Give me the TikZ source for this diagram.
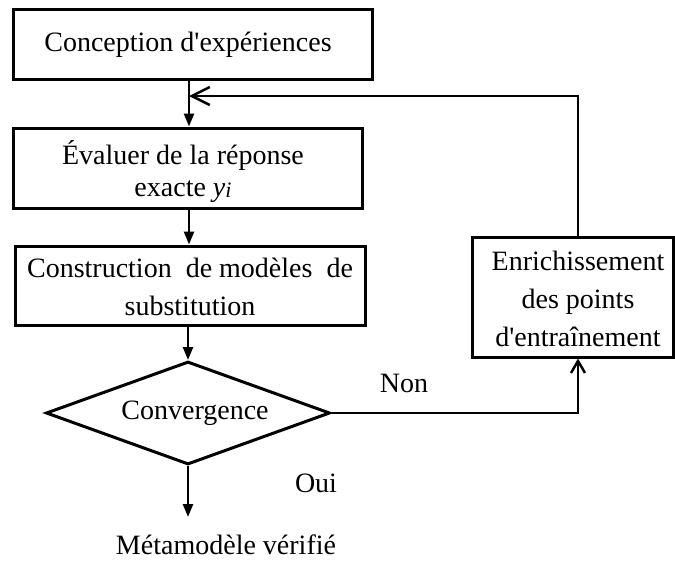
\documentclass[tikz,border=0pt]{standalone}
\usepackage{fontspec}
\setmainfont{Liberation Serif}
\usetikzlibrary{arrows.meta,shapes.geometric}
\begin{document}
\begin{tikzpicture}[x=1pt,y=1pt,
  box/.style={draw, line width=3pt, inner sep=0pt},
  txt/.style={font=\fontsize{28}{38}\selectfont, align=center, inner sep=0pt},
  conn/.style={line width=2.5pt},
  fillarrow/.style={conn, -{Triangle[length=13pt,width=10pt]}},
  openarrowA/.style={conn, -{Straight Barb[length=18pt,width=18pt,line width=2.5pt]}},
  openarrowB/.style={conn, -{Straight Barb[length=12pt,width=14pt,line width=2.5pt]}}]
\useasboundingbox (0,0) rectangle (675,-562);
\coordinate (ax) at (189,0);
\coordinate (vx) at (578,-96);
% boxes
\node[box, minimum width=359, minimum height=70] (b1) at (192.5,-44) {};
\node[txt] (t1) at (188,-45) {Conception d\textquotesingle expériences};
\node[box, minimum width=349, minimum height=80] (b2) at (187.5,-168) {};
\node[txt, font=\fontsize{28}{32}\selectfont] (t2) at (183,-172) {Évaluer de la réponse\\exacte \textit{y}\raisebox{-1pt}{\fontsize{22}{22}\selectfont\textit{i}}};
\node[box, minimum width=350, minimum height=79] (b3) at (190,-285.5) {};
\node[txt] (t3) at (190,-287) {Construction\ \ de modèles\ \ de\\substitution};
\node[draw, diamond, line width=3pt, minimum width=284, minimum height=103, inner sep=0pt] (dia) at (188,-413) {};
\node[txt] (t4) at (195,-413) {Convergence};
\node[box, minimum width=201, minimum height=120] (enr) at (572.5,-297) {};
\node[txt] (t5) at (578,-299) {Enrichissement\\des points\\d\textquotesingle entraînement};
% connectors
\draw[fillarrow] (b1.south -| ax) -- (b2.north -| ax);
\draw[fillarrow] (b2.south -| ax) -- (b3.north -| ax);
\draw[fillarrow] (b3.south -| dia.north) -- (dia.north);
\coordinate (endp) at (188,-517);
\draw[fillarrow] (dia.south) -- (endp);
\draw[openarrowB] (dia.east) -| (enr.south -| vx);
\draw[openarrowA] (enr.north -| vx) -- (vx) -- (vx -| ax);
% labels
\node[txt] (non) at (404,-383) {Non};
\node[txt] (oui) at (316,-483) {Oui};
\node[txt, anchor=base] (met) at (226,-554) {Métamodèle\ vérifié};
\end{tikzpicture}
\end{document}
